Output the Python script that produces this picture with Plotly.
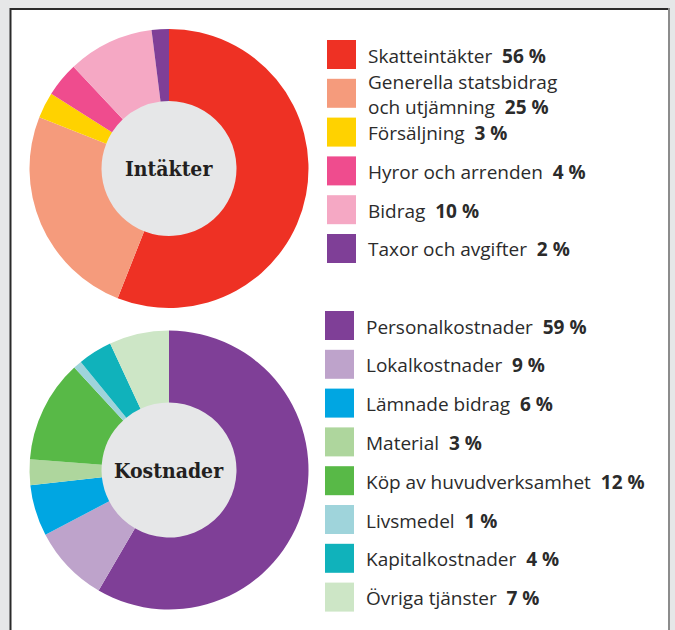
import plotly.graph_objects as go

W, H = 675, 630

# Revenue breakdown (Intäkter)
income_labels = ["Skatteintäkter", "Generella statsbidrag<br>och utjämning", "Försäljning",
                 "Hyror och arrenden", "Bidrag", "Taxor och avgifter"]
income_values = [56, 25, 3, 4, 10, 2]
income_colors = ["#ee3124", "#f59b7c", "#ffd200", "#ef4c8e", "#f5a8c4", "#7f3f97"]

# Cost breakdown (Kostnader)
cost_labels = ["Personalkostnader", "Lokalkostnader", "Lämnade bidrag", "Material",
               "Köp av huvudverksamhet", "Livsmedel", "Kapitalkostnader", "Övriga tjänster"]
cost_values = [59, 9, 6, 3, 12, 1, 4, 7]
cost_colors = ["#7f3f97", "#bea3cb", "#00a6e2", "#aed69d", "#58b947", "#9fd4db", "#10b2bb", "#cde6c6"]

LABEL_FONT = "Open Sans"
LABEL_SIZE = 19
TEXT_COLOR = "#2b2b2b"


def px(x):
    return x / W


def py(y):
    return 1 - y / H


fig = go.Figure()

# Donut geometry in pixels
R = 139.5
HOLE_R = 67.5
centers = [(169, 168.5), (169, 470)]

for (cx, cy), labels, values, colors in [
    (centers[0], income_labels, income_values, income_colors),
    (centers[1], cost_labels, cost_values, cost_colors),
]:
    fig.add_trace(go.Pie(
        labels=labels, values=values, sort=False, direction="clockwise", rotation=0,
        hole=HOLE_R / R,
        marker=dict(colors=colors, line=dict(width=0)),
        textinfo="none", hoverinfo="label+percent", showlegend=False,
        domain=dict(x=[px(cx - R), px(cx + R)], y=[py(cy + R), py(cy - R)]),
    ))

shapes = []
# White panel with frame
shapes.append(dict(type="rect", xref="paper", yref="paper", x0=px(11), x1=px(669), y0=py(640), y1=py(9),
                   fillcolor="white", line=dict(width=0), layer="below"))
shapes.append(dict(type="line", xref="paper", yref="paper", x0=px(10.5), x1=px(10.5), y0=py(640), y1=py(8),
                   line=dict(color="#2a2a2a", width=2), layer="below"))
shapes.append(dict(type="line", xref="paper", yref="paper", x0=px(10), x1=px(668), y0=py(9), y1=py(9),
                   line=dict(color="#2a2a2a", width=2), layer="below"))
shapes.append(dict(type="line", xref="paper", yref="paper", x0=px(669), x1=px(669), y0=py(640), y1=py(8),
                   line=dict(color="#8c8c8c", width=2), layer="below"))

# Grey centre discs inside the donut holes
for cx, cy in centers:
    shapes.append(dict(type="circle", xref="paper", yref="paper",
                       x0=px(cx - HOLE_R - 1), x1=px(cx + HOLE_R + 1),
                       y0=py(cy + HOLE_R + 1), y1=py(cy - HOLE_R - 1),
                       fillcolor="#e6e7e8", line=dict(width=0), layer="below"))

annotations = []
for (cx, cy), title in zip(centers, ["Intäkter", "Kostnader"]):
    annotations.append(dict(xref="paper", yref="paper", x=px(cx), y=py(cy), text=f"<b>{title}</b>",
                            showarrow=False, xanchor="center", yanchor="middle",
                            font=dict(family="DejaVu Serif Condensed, DejaVu Serif", size=21, color="#231f20")))

# Legends: coloured squares with label and bold share
STEP = 38.8
SQ = 29
for labels, values, colors, x0, y0 in [
    (income_labels, income_values, income_colors, 327, 40),
    (cost_labels, cost_values, cost_colors, 325, 311),
]:
    for i, (lab, val, col) in enumerate(zip(labels, values, colors)):
        top = y0 + i * STEP
        shapes.append(dict(type="rect", xref="paper", yref="paper",
                           x0=px(x0), x1=px(x0 + SQ), y0=py(top + SQ), y1=py(top),
                           fillcolor=col, line=dict(width=0)))
        annotations.append(dict(xref="paper", yref="paper", x=px(x0 + 40), y=py(top + SQ / 2 + 1),
                                text=f"{lab}\u00a0\u00a0<b>{val}\u00a0%</b>", showarrow=False, borderpad=0,
                                xanchor="left", yanchor="middle", align="left",
                                font=dict(family=LABEL_FONT, size=LABEL_SIZE, color=TEXT_COLOR)))

fig.update_layout(
    width=W, height=H, margin=dict(l=0, r=0, t=0, b=0),
    paper_bgcolor="#e6e7e8", plot_bgcolor="#e6e7e8",
    shapes=shapes, annotations=annotations,
)

fig.write_html("out.html")
